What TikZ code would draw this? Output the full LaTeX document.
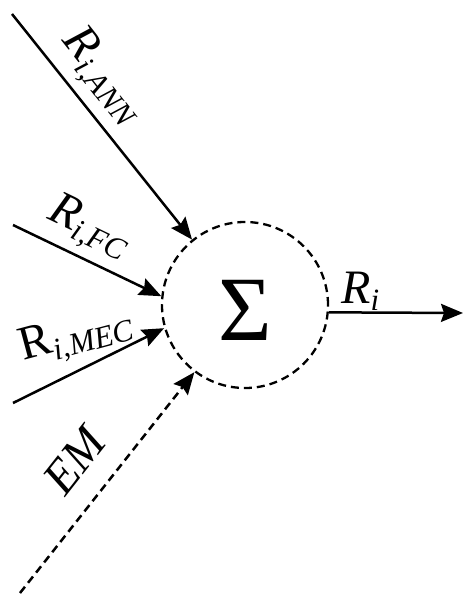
\documentclass[tikz,border=0pt]{standalone}
\usepackage{fontspec}
\setmainfont{Liberation Serif}
\usetikzlibrary{arrows.meta}
\newcommand\lblsub[2]{#1\raisebox{-0.35ex}{\fontsize{31}{33}\selectfont\textit{#2}}}
\tikzset{
  conn/.style={line width=2.5pt,-{Stealth[length=22pt,width=18pt,inset=3pt]}},
  dsh/.style={dash pattern=on 8pt off 5pt},
  lbl/.style={font=\fontsize{48}{50}\selectfont, inner sep=0pt}
}
\begin{document}
\begin{tikzpicture}[x=1pt,y=-1pt]
\useasboundingbox (0,0) rectangle (463,594);
\node[circle, draw, dsh, line width=2.3pt, minimum size=166pt, inner sep=0pt] (s) at (245,305) {};
\node[inner sep=0pt, font=\fontsize{92}{94}\selectfont] (sig) at (245,310) {Σ};
\coordinate (a0) at (12,14);
\coordinate (f0) at (13,225);
\coordinate (m0) at (13,403);
\coordinate (e0) at (20,593);
\coordinate (r1) at (463,313);
\draw[conn] (a0) -- (s.129);
\draw[conn] (f0) -- (s.174);
\draw[conn] (m0) -- (s.196);
\draw[conn, dsh] (e0) -- (s.233);
\draw[conn] (s.-5.5) -- (r1);
\node[lbl, rotate=-51.8] (la) at (102,77) {\lblsub{\textit{R}}{i,ANN}};
\node[lbl, rotate=-25.6] (lf) at (89,228) {\lblsub{\textit{R}}{i,FC}};
\node[lbl, rotate=15] (lm) at (76,337) {\lblsub{R}{i,MEC}};
\node[lbl, rotate=51.8] (le) at (75,460) {\textit{EM}};
\node[lbl, anchor=base west] (lr) at (341,303) {\lblsub{\textit{R}}{i}};
\end{tikzpicture}
\end{document}
